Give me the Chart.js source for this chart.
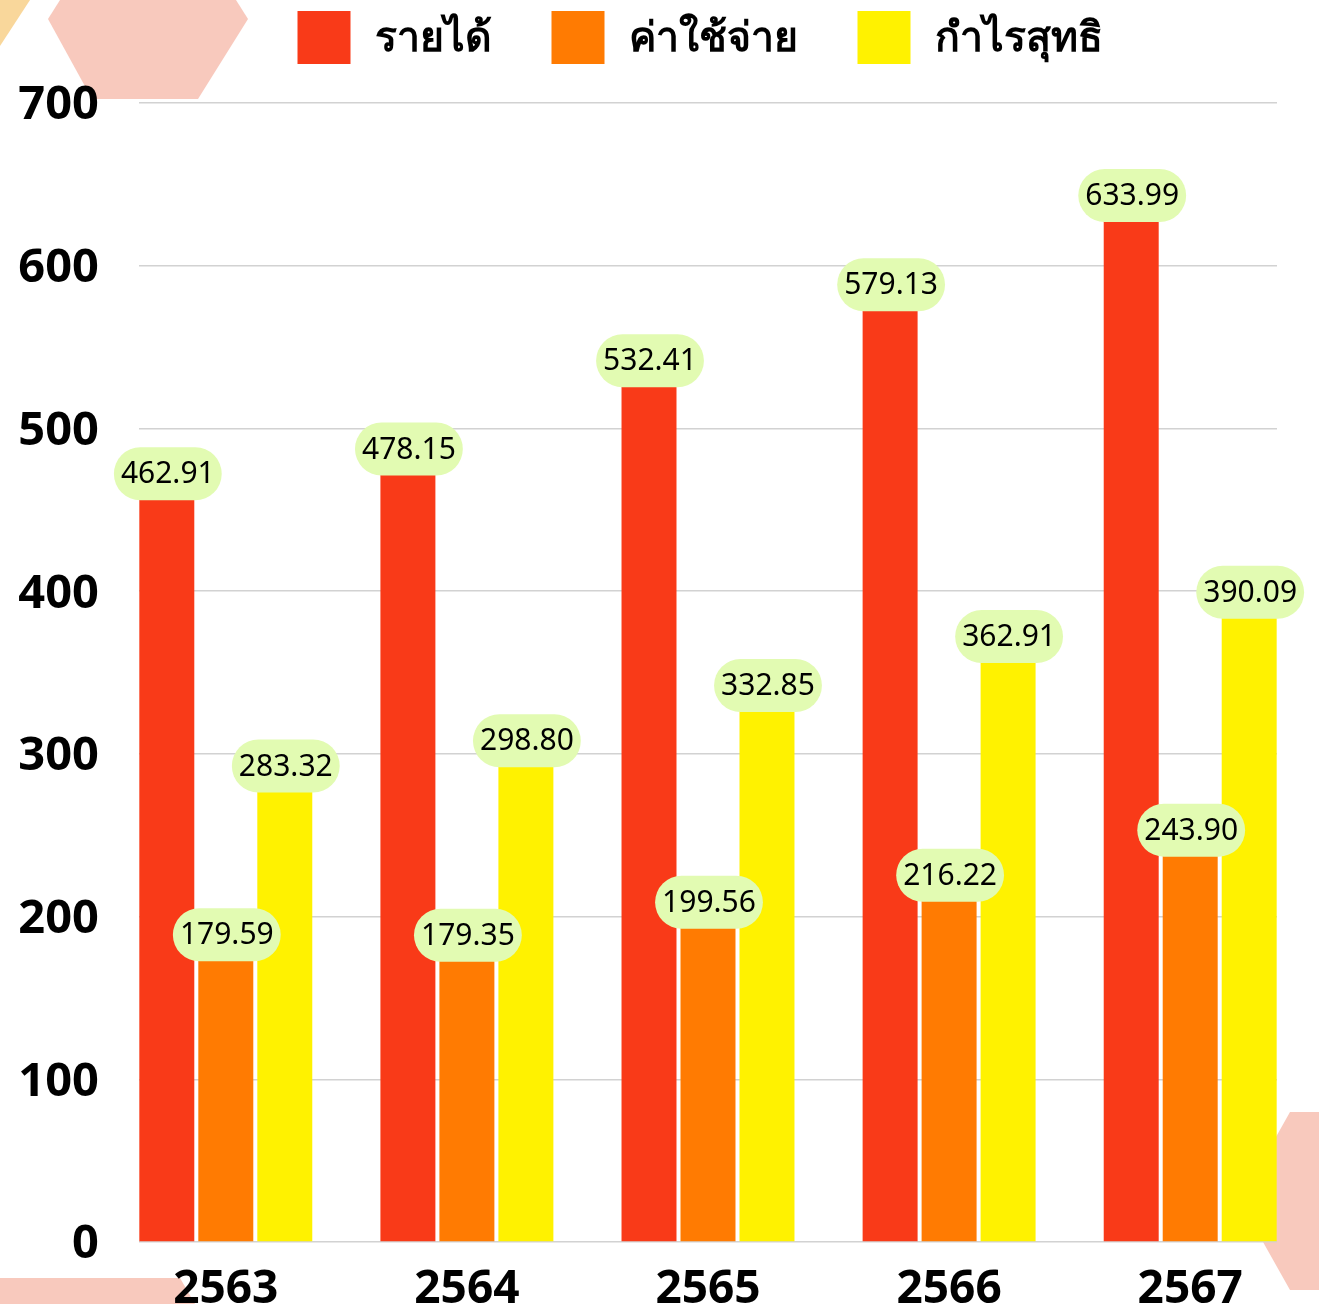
<!DOCTYPE html>
<html>
<head>
<meta charset="utf-8">
<script src="https://cdn.jsdelivr.net/npm/chart.js@4.4.1/dist/chart.umd.min.js"></script>
<style>
  body { margin: 0; background: #fff; }
  #wrap { width: 1319px; height: 1304px; position: relative; }
</style>
</head>
<body>
<div id="wrap"><canvas id="chart"></canvas></div>
<script>
// data
const years = ['2563', '2564', '2565', '2566', '2567'];
const revenue = [462.91, 478.15, 532.41, 579.13, 633.99];
const expense = [179.59, 179.35, 199.56, 216.22, 243.90];
const profit = [283.32, 298.80, 332.85, 362.91, 390.09];
const seriesNames = ['รายได้', 'ค่าใช้จ่าย', 'กำไรสุทธิ'];
const yTicks = [0, 100, 200, 300, 400, 500, 600, 700];

const colors = ['#f93a18', '#ff7b02', '#fff200'];
const labelFont = '"Noto Sans", sans-serif';

function points(arr) {
  return arr.map((v, i) => ({ x: i, y: v }));
}

// background shapes
const decor = {
  id: 'decor',
  beforeDraw(chart) {
    const ctx = chart.ctx;
    ctx.save();
    ctx.fillStyle = '#ffffff';
    ctx.fillRect(0, 0, chart.width, chart.height);
    ctx.fillStyle = '#f9d79b';
    ctx.beginPath();
    ctx.moveTo(0, 0); ctx.lineTo(30, 0); ctx.lineTo(0, 46); ctx.closePath();
    ctx.fill();
    ctx.fillStyle = '#f8c9bd';
    ctx.beginPath();
    ctx.moveTo(60, 0); ctx.lineTo(236, 0); ctx.lineTo(248, 19);
    ctx.lineTo(198, 99); ctx.lineTo(92, 99); ctx.lineTo(48, 19); ctx.closePath();
    ctx.fill();
    ctx.beginPath();
    ctx.moveTo(0, 1278); ctx.lineTo(180, 1278); ctx.lineTo(195, 1304); ctx.lineTo(0, 1304); ctx.closePath();
    ctx.fill();
    ctx.beginPath();
    ctx.moveTo(1290, 1112); ctx.lineTo(1319, 1112); ctx.lineTo(1319, 1290);
    ctx.lineTo(1290, 1290); ctx.lineTo(1240, 1201); ctx.closePath();
    ctx.fill();
    ctx.restore();
  }
};

// legend drawn by hand so spacing matches
const legendTop = {
  id: 'legendTop',
  afterDraw(chart) {
    const ctx = chart.ctx;
    ctx.save();
    ctx.font = 'bold 41px ' + labelFont;
    const box = 53, gap = 24, space = 60;
    const widths = seriesNames.map(t => ctx.measureText(t).width);
    const total = widths.reduce((a, w) => a + box + gap + w, 0) + space * (seriesNames.length - 1);
    let x = (chart.chartArea.left + chart.chartArea.right) / 2 - 8 - total / 2;
    const cy = 37.5;
    seriesNames.forEach((t, i) => {
      ctx.fillStyle = colors[i];
      ctx.fillRect(x, cy - box / 2, box, box);
      ctx.fillStyle = '#000';
      ctx.textBaseline = 'middle';
      ctx.textAlign = 'left';
      ctx.fillText(t, x + box + gap, cy + 2);
      x += box + gap + widths[i] + space;
    });
    ctx.restore();
  }
};

// value pills on bar tops
const valuePills = {
  id: 'valuePills',
  afterDatasetsDraw(chart) {
    const ctx = chart.ctx;
    ctx.save();
    ctx.font = '30px ' + labelFont;
    ctx.textAlign = 'center';
    ctx.textBaseline = 'middle';
    chart.data.datasets.forEach((ds, di) => {
      chart.getDatasetMeta(di).data.forEach((bar, i) => {
        const txt = ds.data[i].y.toFixed(2);
        const w = ctx.measureText(txt).width + 14;
        const h = 53;
        const cx = bar.x + 1, cy = bar.y - 15;
        ctx.fillStyle = '#e2fbb2';
        ctx.beginPath();
        ctx.roundRect(cx - w / 2, cy - h / 2, w, h, h / 2);
        ctx.fill();
        ctx.fillStyle = '#000';
        ctx.fillText(txt, cx, cy + 1);
      });
    });
    ctx.restore();
  }
};

const ctx = document.getElementById('chart').getContext('2d');
const myChart = new Chart(ctx, {
  type: 'bar',
  data: {
    labels: years,
    datasets: [
      { label: seriesNames[0], data: points(revenue), backgroundColor: colors[0] },
      { label: seriesNames[1], data: points(expense), backgroundColor: colors[1] },
      { label: seriesNames[2], data: points(profit), backgroundColor: colors[2] }
    ]
  },
  options: {
    responsive: true,
    maintainAspectRatio: false,
    animation: false,
    layout: { padding: { top: 103, right: 42, left: 0, bottom: 0 } },
    datasets: {
      bar: { categoryPercentage: 0.734, barPercentage: 0.932, borderWidth: 0 }
    },
    plugins: {
      legend: { display: false },
      tooltip: { enabled: false }
    },
    scales: {
      x: {
        type: 'linear',
        offset: false,
        min: -0.36,
        max: 4.36,
        afterBuildTicks: (scale) => { scale.ticks = years.map((y, i) => ({ value: i })); },
        afterFit: (scale) => { scale.height = 62; },
        grid: { display: false, offset: false },
        border: { display: false },
        ticks: {
          padding: 12,
          color: '#000',
          font: { family: labelFont, size: 46, weight: 'bold' },
          callback: (v) => years[v]
        }
      },
      y: {
        min: 0,
        max: 700,
        afterBuildTicks: (scale) => { scale.ticks = yTicks.map(v => ({ value: v })); },
        afterFit: (scale) => { scale.width = 139; scale.paddingTop = 20; scale.paddingBottom = 20; },
        grid: { color: '#d2d2d2', lineWidth: 1.5, drawTicks: false },
        border: { display: false },
        ticks: {
          padding: 40,
          labelOffset: 3,
          color: '#000',
          font: { family: labelFont, size: 47, weight: 'bold' }
        }
      }
    }
  },
  plugins: [decor, legendTop, valuePills]
});
</script>
</body>
</html>
